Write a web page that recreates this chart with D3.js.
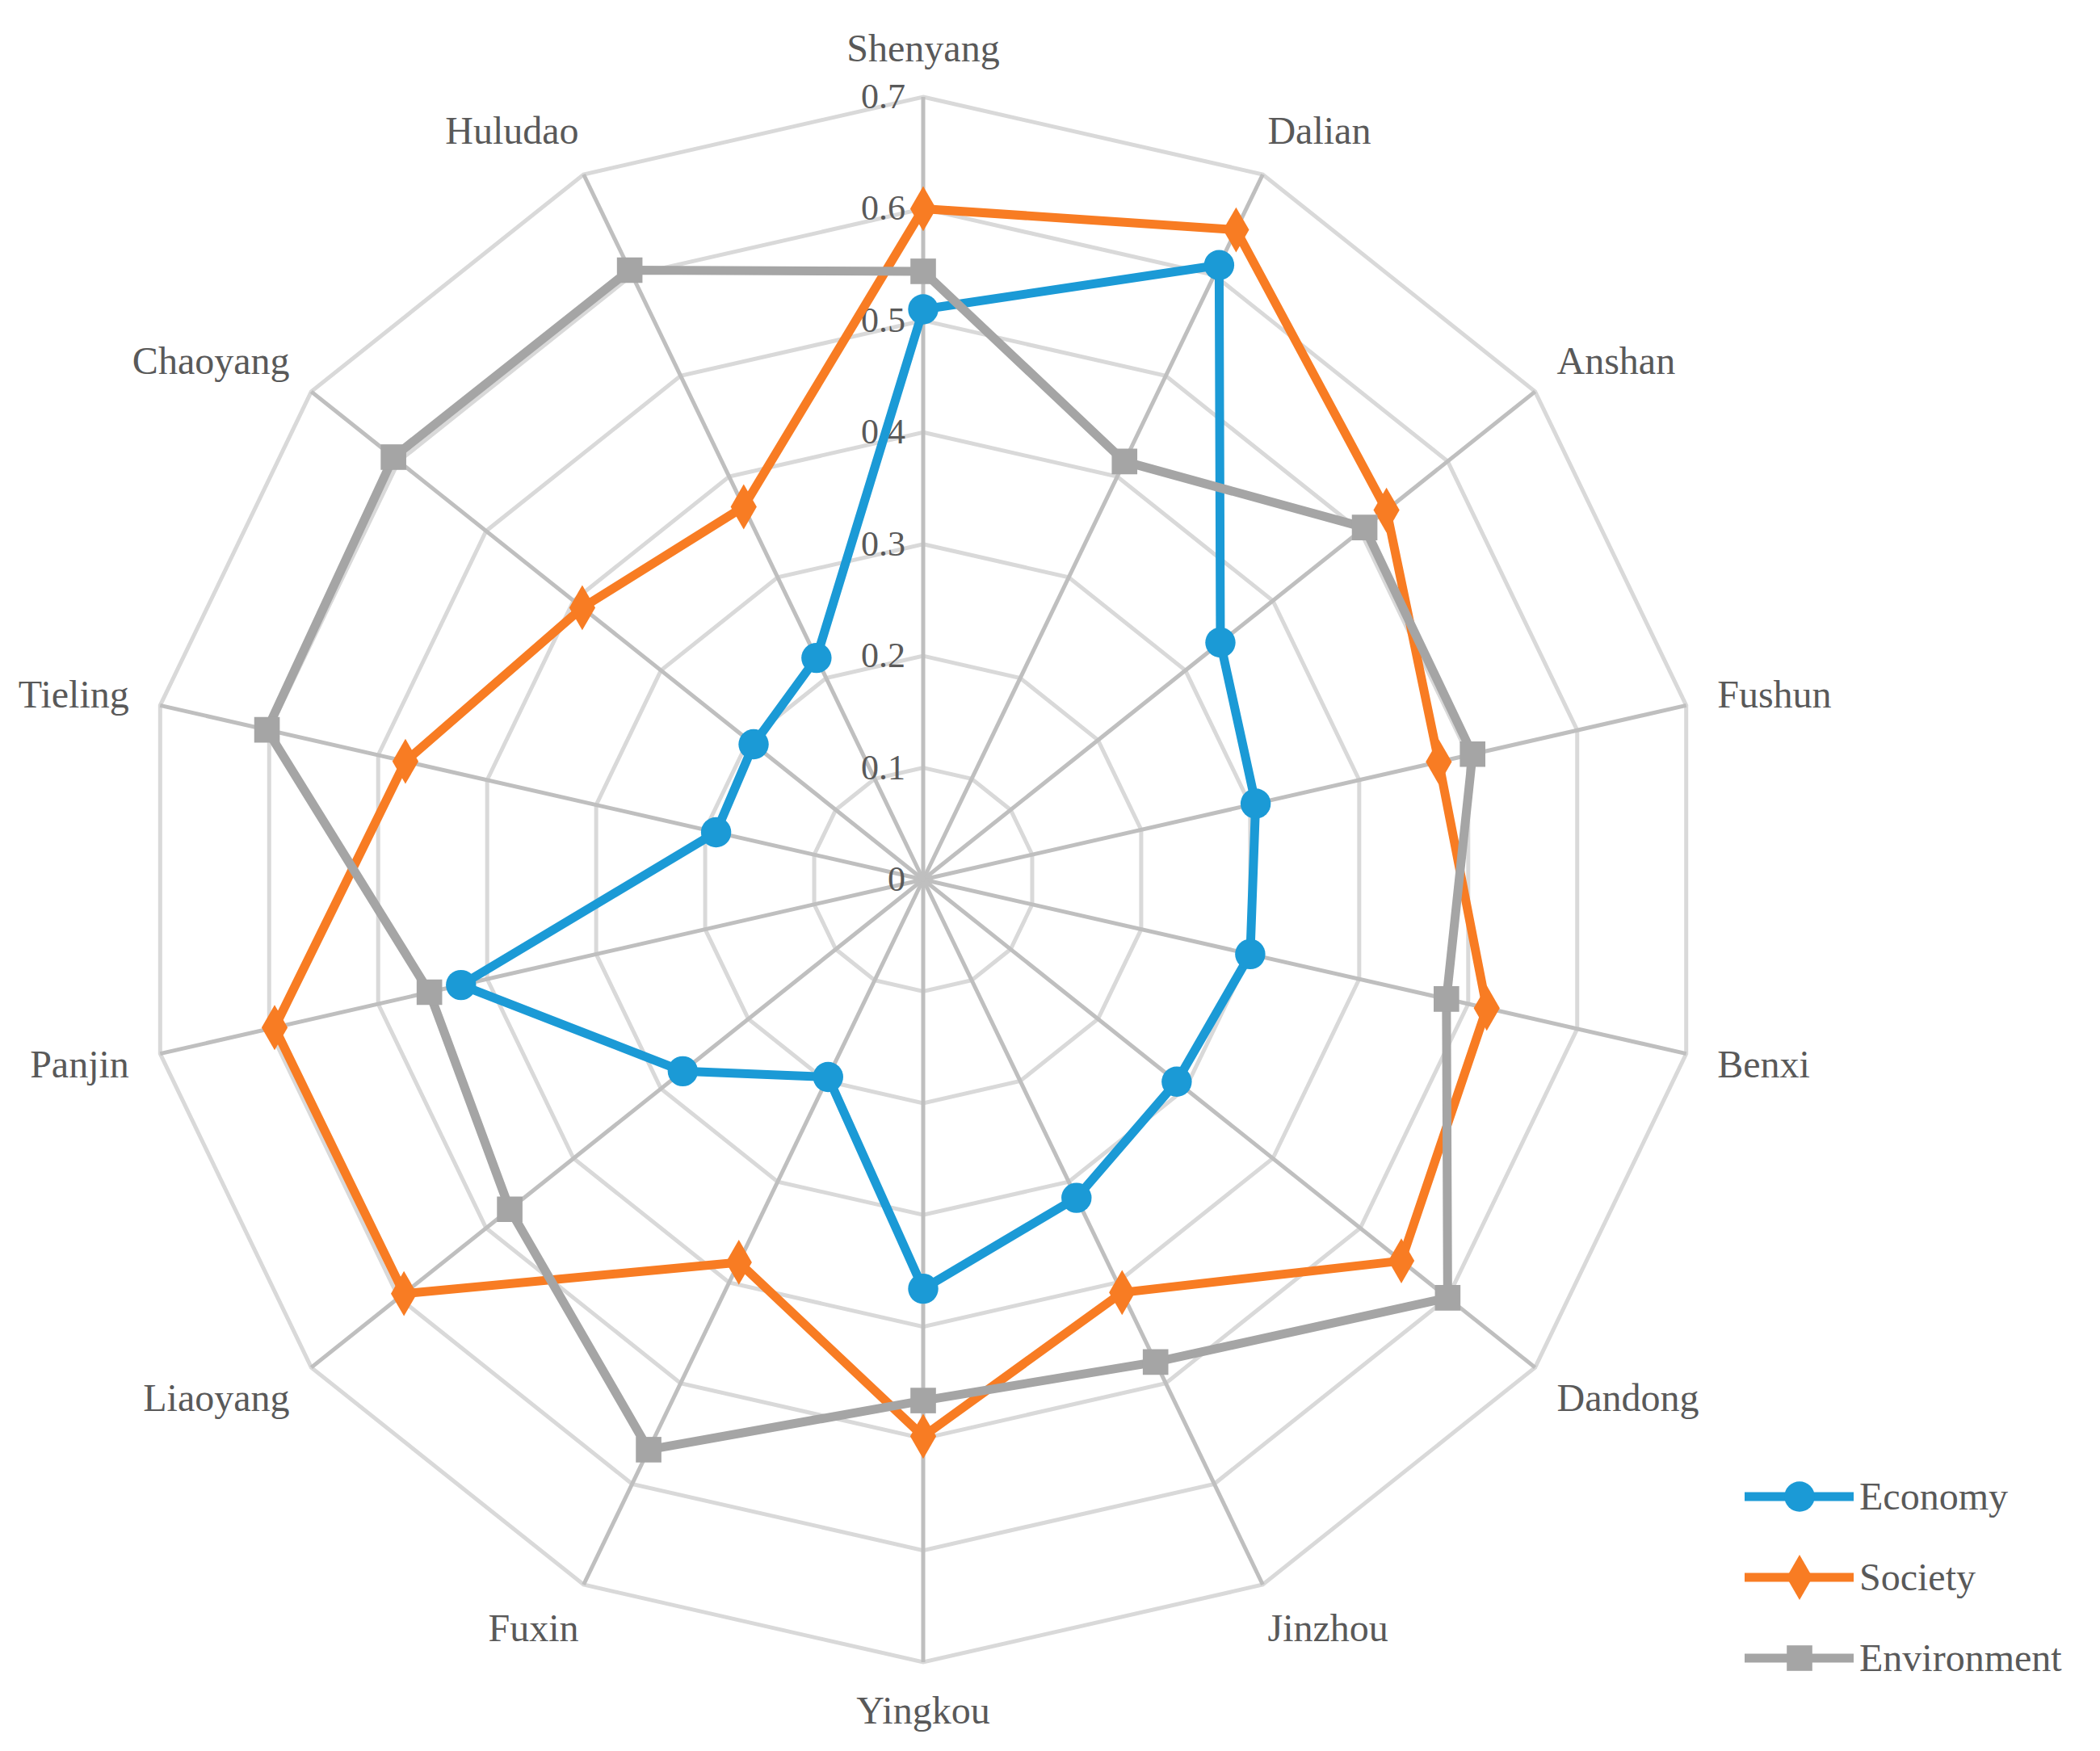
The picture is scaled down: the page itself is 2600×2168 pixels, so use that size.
<!DOCTYPE html>
<html><head><meta charset="utf-8">
<script src="https://cdn.jsdelivr.net/npm/d3@7"></script>
<style>body{margin:0;background:#fff}</style>
</head><body>
<script>
const cities = ["Shenyang","Dalian","Anshan","Fushun","Benxi","Dandong","Jinzhou","Yingkou","Fuxin","Liaoyang","Panjin","Tieling","Chaoyang","Huludao"];
const economy = [0.51,0.61,0.34,0.305,0.30,0.29,0.316,0.366,0.196,0.275,0.424,0.19,0.194,0.22];
const society = [0.60,0.645,0.53,0.473,0.517,0.547,0.41,0.498,0.38,0.594,0.595,0.475,0.39,0.37];
const environment = [0.544,0.415,0.505,0.504,0.48,0.60,0.479,0.466,0.566,0.473,0.453,0.602,0.606,0.605];
const ticks = [0,0.1,0.2,0.3,0.4,0.5,0.6,0.7];

const W = 2600, H = 2168, cx = 1143, cy = 1089, R = 969;
const svg = d3.select("body").append("svg").attr("width", W).attr("height", H);

const r = d3.scaleLinear().domain([0, 0.7]).range([0, R]);
const ang = d3.scalePoint().domain(cities).range([0, 2 * Math.PI * 13 / 14]);
const pt = (c, v) => [cx + r(v) * Math.sin(ang(c)), cy - r(v) * Math.cos(ang(c))];

// rings
ticks.slice(1).forEach(t => {
  svg.append("polygon")
    .attr("points", cities.map(c => pt(c, t).join(",")).join(" "))
    .attr("fill", "none").attr("stroke", "#d9d9d9").attr("stroke-width", 5);
});
// spokes
cities.forEach(c => {
  const p = pt(c, 0.7);
  svg.append("line").attr("x1", cx).attr("y1", cy).attr("x2", p[0]).attr("y2", p[1])
    .attr("stroke", "#bfbfbf").attr("stroke-width", 5);
});

const font = "'Liberation Serif', 'Times New Roman', serif";
// tick labels
ticks.forEach(t => {
  svg.append("text").attr("x", cx - 22).attr("y", cy - r(t) + 14)
    .attr("text-anchor", "end").attr("font-family", font).attr("font-size", 44)
    .attr("fill", "#595959").text(t);
});
// category labels
cities.forEach(c => {
  const a = ang(c), rr = R + 60;
  const x = cx + rr * Math.sin(a), y = cy - rr * Math.cos(a);
  const s = Math.sin(a);
  const anchor = Math.abs(s) < 0.1 ? "middle" : (s > 0 ? "start" : "end");
  svg.append("text").attr("x", x + (anchor === "start" ? -20 : anchor === "end" ? 20 : 0))
    .attr("y", y + 16)
    .attr("text-anchor", anchor).attr("font-family", font).attr("font-size", 48)
    .attr("fill", "#595959").text(c);
});

const series = [
  {name: "Economy", vals: economy, color: "#1b9ad6", shape: d3.symbolCircle, size: 1100},
  {name: "Society", vals: society, color: "#f87c23", shape: d3.symbolDiamond, size: 900},
  {name: "Environment", vals: environment, color: "#a5a5a5", shape: d3.symbolSquare, size: 1000}
];
const line = d3.line().curve(d3.curveLinearClosed);

series.forEach(s => {
  const pts = cities.map((c, i) => pt(c, s.vals[i]));
  svg.append("path").attr("d", line(pts)).attr("fill", "none")
    .attr("stroke", s.color).attr("stroke-width", 11).attr("stroke-linejoin", "round");
  svg.selectAll(null).data(pts).enter().append("path")
    .attr("transform", d => `translate(${d[0]},${d[1]})`)
    .attr("d", d3.symbol().type(s.shape).size(s.size)).attr("fill", s.color);
});

// legend
series.forEach((s, i) => {
  const y = 1853 + i * 100;
  svg.append("line").attr("x1", 2160).attr("x2", 2295).attr("y1", y).attr("y2", y)
    .attr("stroke", s.color).attr("stroke-width", 11);
  svg.append("path").attr("transform", `translate(2228,${y})`)
    .attr("d", d3.symbol().type(s.shape).size(s.size)).attr("fill", s.color);
  svg.append("text").attr("x", 2302).attr("y", y + 16).attr("font-family", font)
    .attr("font-size", 48).attr("fill", "#595959").text(s.name);
});
</script>
</body></html>
